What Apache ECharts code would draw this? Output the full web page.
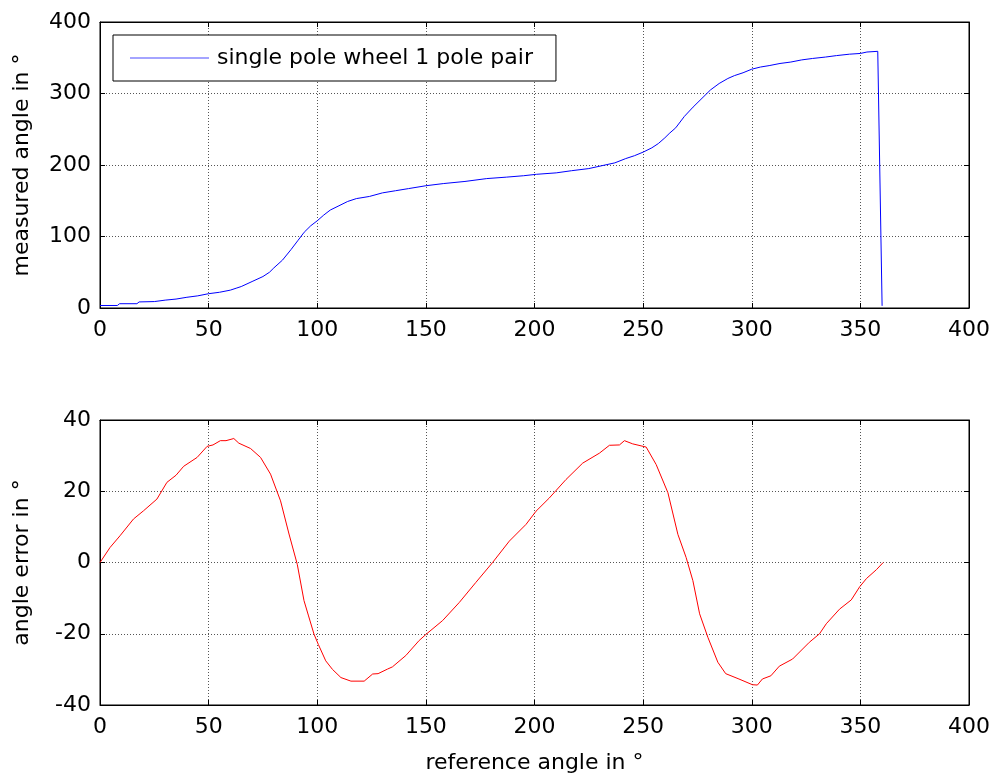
<!DOCTYPE html>
<html>
<head>
<meta charset="utf-8">
<title>measured angle / angle error</title>
<script src="https://cdn.jsdelivr.net/npm/echarts@6/dist/echarts.min.js"></script>
<style>
    html, body { margin: 0; padding: 0; background: #fff; }
    #chart { width: 994px; height: 778px; }
</style>
</head>
<body>
<div id="chart"></div>
<script>
const legendName = 'single pole wheel 1 pole pair';
const xTicks = [0, 50, 100, 150, 200, 250, 300, 350, 400];
const topTicks = [0, 100, 200, 300, 400];
const bottomTicks = [-40, -20, 0, 20, 40];

// upper plot: measured angle vs reference angle
const measuredRef = [
    0, 8, 9, 17, 18, 25, 30, 35, 40, 45, 50, 55, 60, 63, 65, 70, 75, 78, 80, 84,
    88, 91, 94, 97, 100, 103, 106, 110, 114, 118, 124, 130, 136, 142, 150, 158,
    168, 178, 187, 195, 201, 210, 217, 225, 231, 237, 242, 246, 250, 254, 257,
    260, 262, 265, 269, 273, 278, 281, 285, 289, 292, 296, 300, 304, 308, 313,
    318, 323, 328, 334, 339, 345, 350, 353, 358, 360
];
const measuredAngle = [
    3.5, 3.5, 6, 6, 8.5, 9, 11, 12.5, 15, 17, 20, 22, 25, 28, 30, 37, 44, 50, 56, 67,
    82, 94, 106, 115, 122, 130, 137, 143, 149, 153, 156, 161, 164, 167, 171, 174,
    177, 181, 183, 185, 187, 189, 192, 195, 199, 203, 209, 213, 218, 224, 230,
    238, 244, 252, 268, 281, 296, 305, 314, 321, 325, 329, 334, 337, 339, 342,
    344, 347, 349, 351, 353, 355, 356, 358, 359, 3
];

// lower plot: angle error vs reference angle
const errorRef = [
    0, 4.6, 9.2, 15.4, 20, 26.2, 30.8, 35, 38.5, 44.7, 49.3, 52, 55.4, 58, 61.6,
    63.9, 69.3, 73.9, 78.5, 83.1, 87, 90.8, 93.9, 96, 98.5, 100.5, 103.9, 107,
    110.9, 115.5, 121.6, 125.5, 128, 132.4, 134.6, 140.8, 146.9, 150, 157.7,
    165.4, 173, 180.7, 188.4, 196.1, 200.7, 206.8, 214.5, 222.2, 229.9, 234.5,
    239.1, 241.4, 245.2, 251.4, 256, 261.4, 266, 269.8, 272.9, 276, 279.8, 284.4,
    288, 294.1, 300.3, 302.6, 304.9, 308.8, 312.7, 318.8, 326.5, 331.2, 334.3,
    340.4, 345.8, 349.7, 352.8, 357.4, 360.5
];
const angleError = [
    0, 4.2, 7.5, 12.2, 14.5, 17.8, 22.5, 24.5, 27, 29.5, 32.6, 33, 34.2, 34.2, 34.8,
    33.5, 32, 29.5, 24.8, 17.3, 8, -0.5, -10.7, -15, -20.1, -23, -27.6, -30,
    -32.3, -33.3, -33.3, -31.3, -31.2, -29.9, -29.3, -26.1, -21.9, -20.2, -16.3,
    -11.2, -5.6, 0, 6, 10.7, 14.4, 18.1, 23.3, 27.9, 30.7, 32.9,
    33, 34.2, 33.3, 32.4, 27.5, 19.6, 7.9, 1.4, -5.1, -14.4, -21, -28,
    -31.2, -32.7, -34.3, -34.4, -32.7, -31.8, -29.1, -27.1, -22.4, -20, -17.2,
    -13.1, -10.5, -6.8, -4.5, -2, 0
];

const FONT = 'DejaVu Sans';
const FONT_SIZE = 22;

function pairs(xs, ys) {
    return xs.map((x, i) => [x, ys[i]]);
}

function ticksToRange(ticks) {
    return {
        min: ticks[0],
        max: ticks[ticks.length - 1],
        interval: ticks[1] - ticks[0]
    };
}

function labelStyle(margin) {
    return { color: '#000', fontFamily: FONT, fontSize: FONT_SIZE, margin: margin };
}

function makeAxis(gridIndex, position, ticks, mirror, extra) {
    const axis = Object.assign({
        type: 'value',
        gridIndex: gridIndex,
        position: position,
        axisLine: { show: true, onZero: false, lineStyle: { color: '#000', width: 1 } },
        axisTick: { show: true, inside: true, length: 5, lineStyle: { color: '#000' } },
        axisLabel: Object.assign(labelStyle(9), { show: !mirror }),
        splitLine: {
            show: !mirror,
            lineStyle: { color: '#555', type: [1, 2], width: 1 }
        },
        nameTextStyle: { color: '#000', fontFamily: FONT, fontSize: FONT_SIZE }
    }, ticksToRange(ticks));
    return Object.assign(axis, extra || {});
}

const chart = echarts.init(document.getElementById('chart'), null, { renderer: 'canvas' });

chart.setOption({
    animation: false,
    backgroundColor: '#fff',
    textStyle: { fontFamily: FONT },
    grid: [
        { left: 100, top: 22, width: 869, height: 286, show: true, borderColor: '#000', borderWidth: 1 },
        { left: 100, top: 420, width: 869, height: 285, show: true, borderColor: '#000', borderWidth: 1 }
    ],
    legend: {
        data: [legendName],
        left: 113,
        top: 35,
        orient: 'horizontal',
        padding: [12, 23, 12, 17],
        icon: 'rect',
        itemWidth: 79,
        itemHeight: 1,
        backgroundColor: '#fff',
        borderColor: '#000',
        borderWidth: 1,
        borderRadius: 0,
        textStyle: { color: '#000', fontFamily: FONT, fontSize: FONT_SIZE, lineHeight: 22, padding: [0, 0, 0, 3] }
    },
    xAxis: [
        makeAxis(0, 'bottom', xTicks, false, { axisLabel: labelStyle(11) }),
        makeAxis(0, 'top', xTicks, true),
        makeAxis(1, 'bottom', xTicks, false, {
            axisLabel: labelStyle(11),
            name: 'reference angle in °',
            nameLocation: 'middle',
            nameGap: 47
        }),
        makeAxis(1, 'top', xTicks, true)
    ],
    yAxis: [
        makeAxis(0, 'left', topTicks, false, {
            name: 'measured angle in °',
            nameLocation: 'middle',
            nameGap: 67
        }),
        makeAxis(0, 'right', topTicks, true),
        makeAxis(1, 'left', bottomTicks, false, {
            name: 'angle error in °',
            nameLocation: 'middle',
            nameGap: 67
        }),
        makeAxis(1, 'right', bottomTicks, true)
    ],
    series: [
        {
            name: legendName,
            type: 'line',
            xAxisIndex: 0,
            yAxisIndex: 0,
            data: pairs(measuredRef, measuredAngle),
            symbol: 'none',
            lineStyle: { color: '#0000ff', width: 1 },
            itemStyle: { color: '#4a4aff' }
        },
        {
            name: 'angle error',
            type: 'line',
            xAxisIndex: 2,
            yAxisIndex: 2,
            data: pairs(errorRef, angleError),
            symbol: 'none',
            lineStyle: { color: '#ff0000', width: 1 },
            itemStyle: { color: '#ff0000' }
        }
    ]
});
</script>
</body>
</html>
